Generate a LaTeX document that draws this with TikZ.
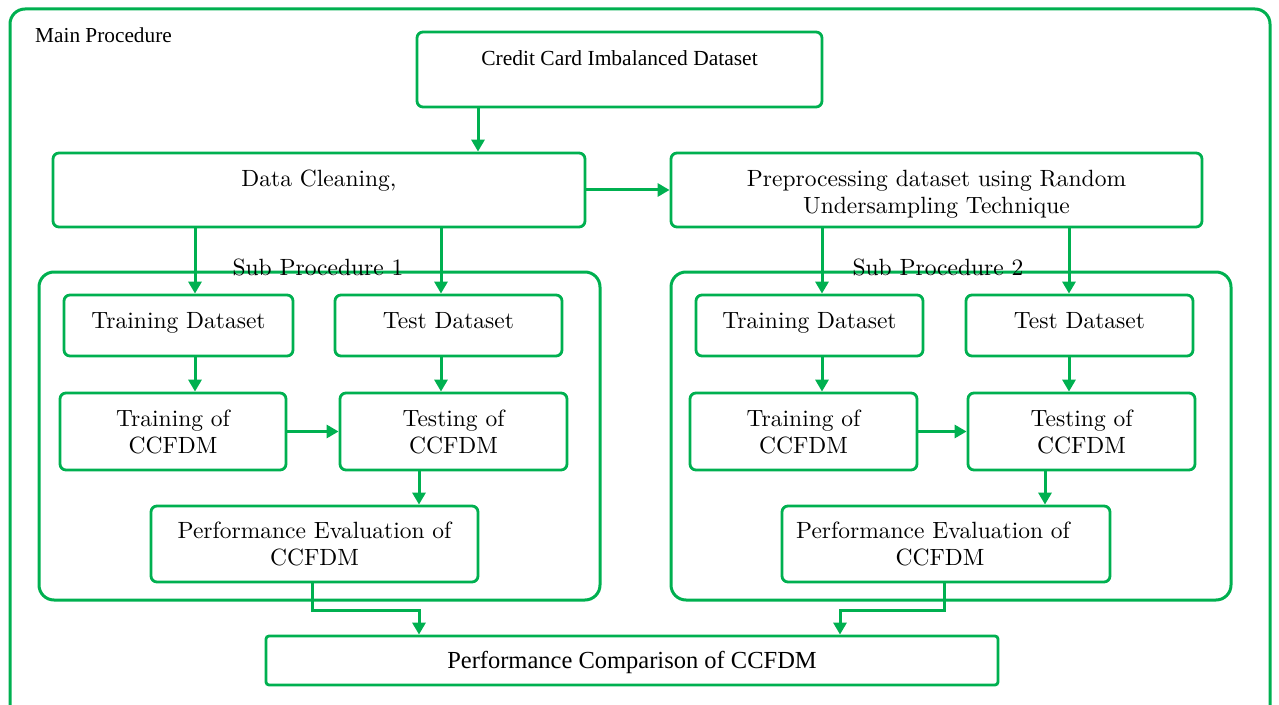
\documentclass[tikz,border=0pt]{standalone}
\usepackage{fontspec}
\setmainfont{Liberation Serif}
\newfontfamily\bxfont{lmroman10-regular}[Extension=.otf]
\usetikzlibrary{arrows.meta}
\definecolor{gr}{HTML}{00B050}
\tikzset{
  box/.style={draw=gr, line width=2.8bp, rounded corners=6bp, inner sep=0pt,
    font=\bxfont\fontsize{23.5bp}{27bp}\selectfont},
  tbox/.style={box, text height=16bp},
  lbl/.style={font=\bxfont\fontsize{23.5bp}{27bp}\selectfont, inner sep=0pt},
  frame/.style={draw=gr, line width=3bp},
  arr/.style={draw=gr, line width=3bp, -{Triangle[width=13bp,length=12bp]}},
  con/.style={draw=gr, line width=3bp},
}
\begin{document}
\begin{tikzpicture}[x=1bp,y=-1bp]
\useasboundingbox (0,0) rectangle (1279,705);
\clip (0,0) rectangle (1279,705);
% outer frame
\draw[frame, rounded corners=15bp] (10,9) rectangle (1270,760);
\node[anchor=base west, inner sep=0pt, font=\fontsize{21.3bp}{25bp}\selectfont] (mainlbl) at (35,42.5) {Main Procedure};
% sub procedure frames
\draw[frame, rounded corners=15bp] (39,272) rectangle (600,600);
\draw[frame, rounded corners=15bp] (671,272) rectangle (1231,600);
\node[lbl, anchor=base] (sub1) at (318,275) {Sub Procedure 1};
\node[lbl, anchor=base] (sub2) at (938,275) {Sub Procedure 2};
% main boxes
\node[box, minimum width=405bp, minimum height=75bp, text height=16bp, text depth=23bp,
  font=\fontsize{21.5bp}{25bp}\selectfont] (cc) at (619.5,69.5) {Credit Card Imbalanced Dataset};
\node[tbox, minimum width=532bp, minimum height=74bp, text depth=22bp] (dc) at (319,190) {Data Cleaning,};
\node[box, minimum width=531bp, minimum height=74bp, align=center] (pp) at (936.5,190)
  {\rule{0pt}{24bp}Preprocessing dataset using Random\\Undersampling Technique};
% sub procedure 1
\node[tbox, minimum width=229bp, minimum height=61bp, text depth=11bp] (td1) at (178.5,325.5) {Training Dataset};
\node[tbox, minimum width=227bp, minimum height=61bp, text depth=11bp] (ts1) at (448.5,325.5) {Test Dataset};
\node[box, minimum width=226bp, minimum height=77bp, align=center] (tr1) at (173,431.5) {Training of\\CCFDM};
\node[box, minimum width=227bp, minimum height=77bp, align=center] (te1) at (453.5,431.5) {Testing of\\CCFDM};
\node[box, minimum width=327bp, minimum height=76bp, align=center] (pe1) at (314.5,544) {Performance Evaluation of\\CCFDM};
% sub procedure 2
\node[tbox, minimum width=227bp, minimum height=61bp, text depth=11bp] (td2) at (809.5,325.5) {Training Dataset};
\node[tbox, minimum width=227bp, minimum height=61bp, text depth=11bp] (ts2) at (1079.5,325.5) {Test Dataset};
\node[box, minimum width=227bp, minimum height=77bp, align=center] (tr2) at (803.5,431.5) {Training of\\CCFDM};
\node[box, minimum width=227bp, minimum height=77bp, align=center] (te2) at (1081.5,431.5) {Testing of\\CCFDM};
\node[box, minimum width=328bp, minimum height=76bp, align=center] (pe2) at (946,544)
  {Performance Evaluation of\hspace*{26bp}\\CCFDM\hspace*{12bp}};
% comparison
\node[box, rounded corners=3bp, minimum width=732bp, minimum height=49bp, text height=16bp, text depth=0bp,
  font=\fontsize{24.5bp}{28bp}\selectfont] (cmp) at (632,660.5) {Performance Comparison of CCFDM};
% columns
\coordinate (k195) at (195,0);
\coordinate (k441) at (441,0);
\coordinate (k419) at (419,0);
\coordinate (k478) at (478,0);
\coordinate (k822) at (822,0);
\coordinate (k1069) at (1069,0);
\coordinate (k1045) at (1045,0);
\coordinate (k312) at (312,0);
\coordinate (k944) at (944,0);
\coordinate (k840) at (840,0);
% arrows
\draw[arr] (cc.south -| k478) -- (dc.north -| k478);
\draw[arr] (dc.east) -- (pp.west);
\draw[arr] (dc.south -| k195) -- (td1.north -| k195);
\draw[arr] (dc.south -| k441) -- (ts1.north -| k441);
\draw[arr] (pp.south -| k822) -- (td2.north -| k822);
\draw[arr] (pp.south -| k1069) -- (ts2.north -| k1069);
\draw[arr] (td1.south -| k195) -- (tr1.north -| k195);
\draw[arr] (ts1.south -| k441) -- (te1.north -| k441);
\draw[arr] (tr1.east) -- (te1.west);
\draw[arr] (te1.south -| k419) -- (pe1.north -| k419);
\draw[arr] (td2.south -| k822) -- (tr2.north -| k822);
\draw[arr] (ts2.south -| k1069) -- (te2.north -| k1069);
\draw[arr] (tr2.east) -- (te2.west);
\draw[arr] (te2.south -| k1045) -- (pe2.north -| k1045);
\draw[arr] (pe1.south -| k312) -- ++(0,27) -| (cmp.north -| k419);
\draw[arr] (pe2.south -| k944) -- ++(0,27) -| (cmp.north -| k840);
\end{tikzpicture}
\end{document}
